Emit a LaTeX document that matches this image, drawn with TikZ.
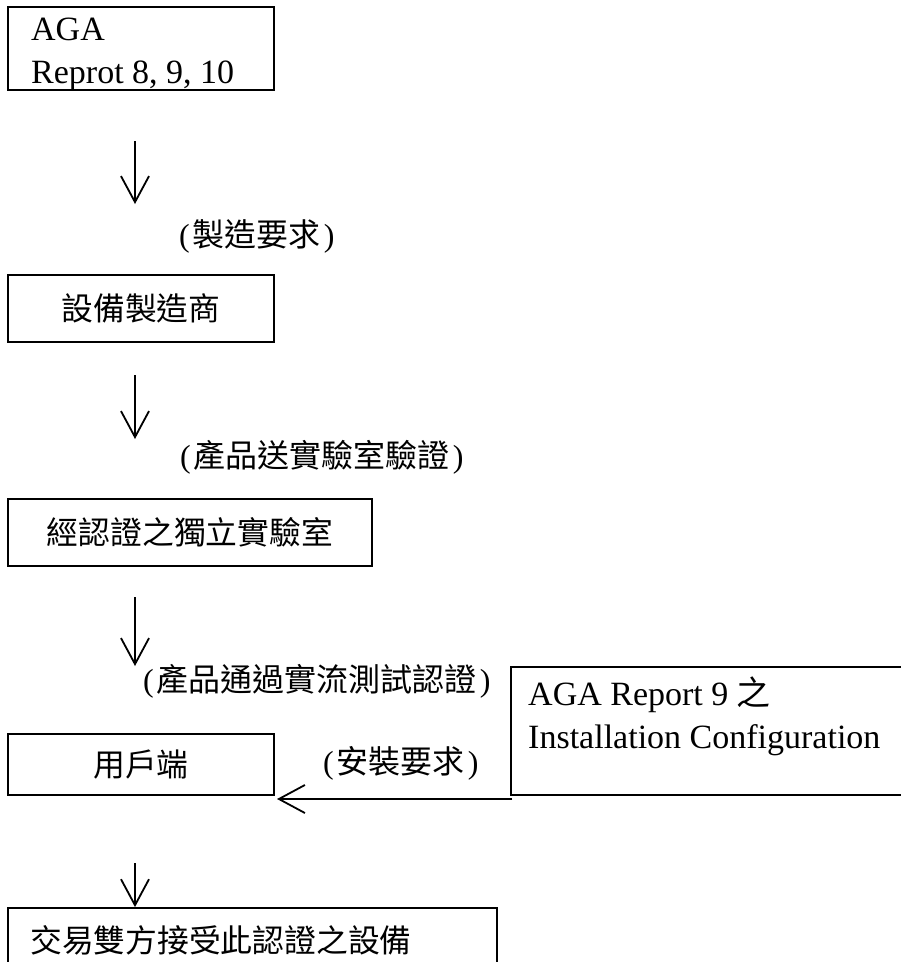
\documentclass[tikz,border=0pt]{standalone}
\usepackage{fontspec}
\setmainfont{Liberation Serif}
\newfontfamily\cjk{Noto Sans CJK TC}
\usetikzlibrary{arrows.meta}
\newcommand\zhtxt[1]{{\cjk #1}}
\newcommand\plab[1]{(\hspace{3pt}{\cjk #1}\hspace{3pt})}
\begin{document}
\begin{tikzpicture}[x=1pt,y=-1pt,
  box/.style={draw, line width=1.8pt, inner sep=0pt, rectangle},
  arr/.style={line width=1.8pt, -{Straight Barb[length=26pt,width=28pt,line width=1.8pt]}},
  en/.style={font=\fontsize{34}{38}\selectfont, inner sep=0pt},
  zh/.style={font=\fontsize{31.8}{36}\selectfont\cjk, inner sep=0pt},
  lab/.style={font=\fontsize{32}{36}\selectfont, inner sep=0pt, anchor=west}]
\useasboundingbox (0,0) rectangle (901,962);
\clip (0,0) rectangle (901,962);

% boxes
\node[box, minimum width=266, minimum height=83] (b1) at (141,48.5) {};
\node[en, anchor=base west] (b1a) at (31,40) {AGA};
\node[en, anchor=base west] (b1b) at (31,83) {Reprot 8, 9, 10};

\node[box, minimum width=266, minimum height=67, zh] (b2) at (141,308.5) {設備製造商};
\node[box, minimum width=364, minimum height=67, zh] (b3) at (190,532.5) {經認證之獨立實驗室};
\node[box, minimum width=266, minimum height=61, zh] (b4) at (141,764.5) {用戶端};

\node[box, minimum width=429, minimum height=128] (b5) at (725.5,731) {};
\node[en, anchor=base west] (b5a) at (528,705) {AGA Report 9 \zhtxt{之}};
\node[en, anchor=base west] (b5b) at (528,748) {Installation Configuration};

\node[box, minimum width=489, minimum height=82] (b6) at (252.5,949) {};
\node[zh, anchor=west] (b6t) at (30,940) {交易雙方接受此認證之設備};

% labels
\node[lab] (l1) at (179,236) {\plab{製造要求}};
\node[lab] (l2) at (180,457) {\plab{產品送實驗室驗證}};
\node[lab] (l3) at (143,681) {\plab{產品通過實流測試認證}};
\node[lab] (l4) at (323,763) {\plab{安裝要求}};

% arrow end points
\coordinate (a1s) at (135,141);
\coordinate (a1e) at (135,204);
\coordinate (a2s) at (135,375);
\coordinate (a2e) at (135,439);
\coordinate (a3s) at (135,597);
\coordinate (a3e) at (135,666);
\coordinate (a4s) at (135,863);
\coordinate (a5s) at (512,799);
\coordinate (a5e) at (277,799);

\draw[arr] (a1s) -- (a1e);
\draw[arr] (a2s) -- (a2e);
\draw[arr] (a3s) -- (a3e);
\draw[arr] (a4s) -- (a4s |- b6.north);
\draw[arr] (a5s) -- (a5e);
\end{tikzpicture}
\end{document}
